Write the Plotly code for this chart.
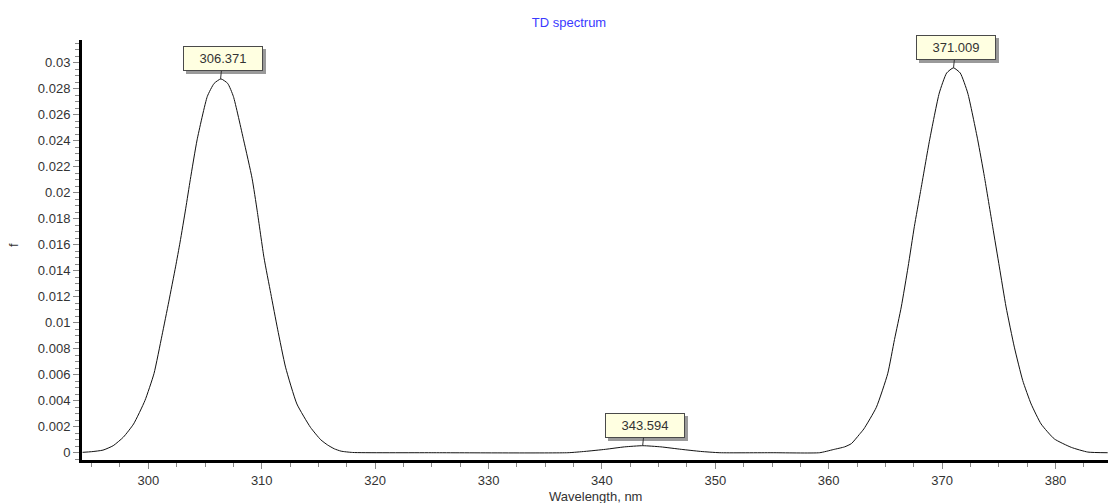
import plotly.graph_objects as go

# Spectrum (wavelength in nm, oscillator strength f)
wavelength = [294.2, 295.0, 296.0, 296.9, 297.8, 298.7, 299.7, 300.5, 301.2, 301.8,
              302.4, 302.8, 303.3, 303.7, 304.3, 305.2, 305.8, 306.4, 307.0, 307.5,
              308.4, 309.15, 309.6, 310.2, 310.8, 311.4, 312.1, 313.1, 314.3, 315.2,
              315.8, 316.4, 317.0, 318.0, 325.0, 337.0, 338.5, 340.3, 342.0, 343.6,
              345.2, 347.0, 348.7, 350.4, 355.0, 359.2, 360.4, 361.4, 362.0, 362.7,
              363.1, 364.2, 365.2, 365.8, 366.4, 367.0, 367.55, 368.1, 368.9, 369.75,
              370.4, 371.0, 371.6, 372.26, 373.14, 373.73, 374.46, 375.05, 375.64, 376.37,
              377.11, 377.85, 378.73, 379.9, 381.4, 382.85, 384.6]
f_values = [0.00003, 0.00008, 0.00020, 0.00054, 0.00120, 0.00221, 0.00401, 0.00609, 0.00900, 0.01160,
            0.01429, 0.01620, 0.01880, 0.02100, 0.02406, 0.02740, 0.02840, 0.02875, 0.02840, 0.02740,
            0.02406, 0.02110, 0.01860, 0.01500, 0.01224, 0.00950, 0.00658, 0.00375, 0.00195, 0.00100,
            0.00060, 0.00030, 0.00012, 0.00002, 0.0, 0.0, 0.00010, 0.00026, 0.00045, 0.00054,
            0.00045, 0.00026, 0.00010, 0.0, 0.0, 0.0, 0.00024, 0.00045, 0.00070, 0.00140,
            0.00183, 0.00349, 0.00607, 0.00870, 0.01121, 0.01429, 0.01738, 0.02010, 0.02406, 0.02766,
            0.02920, 0.02960, 0.02920, 0.02766, 0.02406, 0.02123, 0.01738, 0.01429, 0.01121, 0.00812,
            0.00555, 0.00375, 0.00221, 0.00106, 0.00041, 0.00005, 0.0]

peak_positions = [306.371, 343.594, 371.009]
peak_heights = [0.02875, 0.00054, 0.02960]
peak_labels = ["306.371", "343.594", "371.009"]

x_tickvals = [300, 310, 320, 330, 340, 350, 360, 370, 380]
x_ticktext = ["300", "310", "320", "330", "340", "350", "360", "370", "380"]
y_tickvals = [0, 0.002, 0.004, 0.006, 0.008, 0.01, 0.012, 0.014, 0.016, 0.018,
              0.02, 0.022, 0.024, 0.026, 0.028, 0.03]
y_ticktext = ["0", "0.002", "0.004", "0.006", "0.008", "0.01", "0.012", "0.014", "0.016", "0.018",
              "0.02", "0.022", "0.024", "0.026", "0.028", "0.03"]

FONT = "Liberation Sans, Arial, sans-serif"

fig = go.Figure()
fig.add_trace(go.Scatter(
    x=wavelength, y=f_values, mode="lines",
    line=dict(color="#111111", width=1, shape="spline", smoothing=0.5),
    hoverinfo="x+y", showlegend=False,
))

annotations = []
for px, py, lab in zip(peak_positions, peak_heights, peak_labels):
    # drop shadow box (no text)
    annotations.append(dict(
        x=px, y=py, xref="x", yref="y", text=" ", showarrow=True,
        ax=2, ay=-20, arrowcolor="rgba(0,0,0,0)", arrowwidth=1, arrowhead=0,
        bgcolor="#9a9a9a", bordercolor="#9a9a9a", borderwidth=1, borderpad=3,
        width=72, height=17, xshift=3, yshift=-3,
        font=dict(family=FONT, size=13, color="rgba(0,0,0,0)"),
    ))
    annotations.append(dict(
        x=px, y=py, xref="x", yref="y", text=lab, showarrow=True,
        ax=2, ay=-20, arrowcolor="#333333", arrowwidth=1, arrowhead=0, standoff=0,
        bgcolor="#ffffe1", bordercolor="#4a4a4a", borderwidth=1, borderpad=3,
        width=72, height=17,
        font=dict(family=FONT, size=13, color="#333333"),
    ))

annotations.append(dict(
    text="f", xref="paper", yref="paper", x=(14 - 82) / 1026, y=0.512,
    showarrow=False, textangle=-90, font=dict(family=FONT, size=13, color="#333333"),
    xanchor="center", yanchor="middle",
))
annotations.append(dict(
    text="Wavelength, nm", xref="paper", yref="paper", x=0.5, y=-0.086,
    showarrow=False, font=dict(family=FONT, size=13, color="#333333"),
    xanchor="center", yanchor="middle",
))

fig.update_layout(
    width=1108, height=503,
    margin=dict(l=82, r=0, t=40, b=43),
    paper_bgcolor="white", plot_bgcolor="white",
    title=dict(text="TD spectrum", x=569 / 1108, xref="container", xanchor="center",
               y=1 - 22 / 503, yref="container", yanchor="middle",
               font=dict(family=FONT, size=13, color="#3a3aff")),
    annotations=annotations,
    xaxis=dict(
        range=[294.15, 384.63], showgrid=False, zeroline=False,
        showline=True, linecolor="black", linewidth=3,
        tickmode="array", tickvals=x_tickvals, ticktext=x_ticktext,
        ticks="outside", ticklen=6, tickwidth=1, tickcolor="#888888",
        tickfont=dict(family=FONT, size=13, color="#333333"),
        minor=dict(dtick=2.5, tick0=0, ticks="outside", ticklen=4, tickcolor="#888888", tickwidth=1),
    ),
    yaxis=dict(
        range=[-0.00056, 0.03174], showgrid=False, zeroline=False,
        showline=True, linecolor="black", linewidth=3,
        tickmode="array", tickvals=y_tickvals, ticktext=y_ticktext,
        ticks="outside", ticklen=6, tickwidth=1, tickcolor="#888888",
        tickfont=dict(family=FONT, size=13, color="#333333"),
        minor=dict(dtick=0.0005, tick0=0, ticks="outside", ticklen=4, tickcolor="#888888", tickwidth=1),
    ),
)

fig.write_html("out.html")
